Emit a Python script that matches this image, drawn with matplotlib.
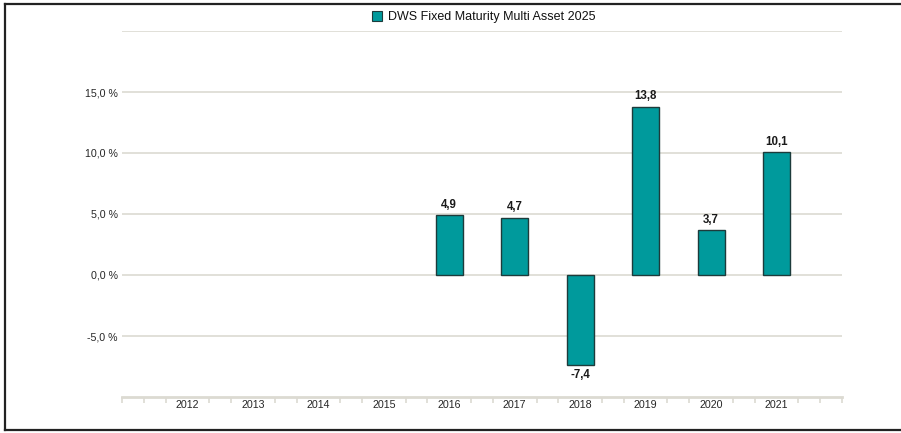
import numpy as np
import matplotlib.pyplot as plt
from matplotlib.patches import Patch
from matplotlib.lines import Line2D

years = [2012, 2013, 2014, 2015, 2016, 2017, 2018, 2019, 2020, 2021]
values = [np.nan, np.nan, np.nan, np.nan, 4.9, 4.7, -7.4, 13.8, 3.7, 10.1]
series_name = 'DWS Fixed Maturity Multi Asset 2025'
y_ticks = [-5, 0, 5, 10, 15]

plt.rcParams['font.family'] = ['Liberation Sans', 'DejaVu Sans']

bar_col = '#009a9c'
grid_col = '#dcdad2'
text_col = '#262626'

fig = plt.figure(figsize=(9.01, 4.33), dpi=100)
ax = fig.add_axes([122 / 901, 1 - 397 / 433, 720 / 901, 366 / 433])

# gridlines
for g in [-5, 0, 5, 10, 15, 20]:
    ax.axhline(g, color=grid_col, lw=1.2, zorder=0)

ax.bar(years, values, width=0.41, color=bar_col, edgecolor='#1d3b3b', lw=1.0, zorder=2)

for x, v in zip(years, values):
    if np.isnan(v):
        continue
    lab = f'{v:.1f}'.replace('.', ',')
    if v >= 0:
        ax.annotate(lab, (x, v), xytext=(0, 3), textcoords='offset points',
                    ha='center', va='bottom', fontsize=8.3, fontweight='bold', color='#1a1a1a')
    else:
        ax.annotate(lab, (x, v), xytext=(0, -3), textcoords='offset points',
                    ha='center', va='top', fontsize=8.3, fontweight='bold', color='#1a1a1a')

ax.set_xlim(2011, 2022)
ax.set_ylim(-10, 20)

ax.set_yticks(y_ticks)
ax.set_yticklabels([f'{t:.1f} %'.replace('.', ',') for t in y_ticks])
ax.tick_params(axis='y', length=0, pad=3, labelsize=7.7, labelcolor=text_col)

ax.set_xticks(years)
ax.set_xticklabels([str(y) for y in years])
minor = [2011 + k / 3 for k in range(34) if k % 3 != 0 or k in (0, 33)]
ax.set_xticks(minor, minor=True)
ax.tick_params(axis='x', which='major', length=0, pad=2, labelsize=7.7, labelcolor=text_col)
ax.tick_params(axis='x', which='minor', length=4, width=1.2, color=grid_col)

for s in ['top', 'right', 'left']:
    ax.spines[s].set_visible(False)
ax.spines['bottom'].set_color(grid_col)
ax.spines['bottom'].set_linewidth(2)

handle = Patch(facecolor=bar_col, edgecolor='#1d3b3b', lw=0.8)
fig.legend([handle], [series_name], loc='center', bbox_to_anchor=(0.537, 1 - 17 / 433),
           frameon=False, fontsize=9, handlelength=0.8, handleheight=0.8,
           handletextpad=0.5, labelcolor='#111111')

# outer frame
fig.add_artist(Line2D([5 / 901, 5 / 901], [1 - 4 / 433, 1 - 430 / 433], color='#222222', lw=1.6))
fig.add_artist(Line2D([5 / 901, 1], [1 - 4 / 433, 1 - 4 / 433], color='#222222', lw=1.6))
fig.add_artist(Line2D([5 / 901, 1], [1 - 430 / 433, 1 - 430 / 433], color='#222222', lw=1.6))

fig.savefig('out.png', dpi=100)
